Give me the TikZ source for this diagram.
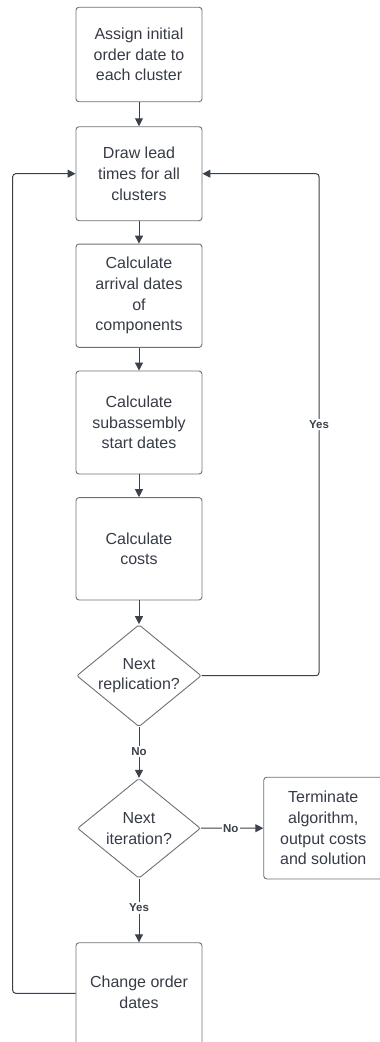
\documentclass[tikz,border=0pt]{standalone}
\usepackage{fontspec}
\setmainfont{Liberation Sans}
\usetikzlibrary{arrows.meta,shapes.geometric}
\definecolor{ln}{HTML}{3A414A}
\definecolor{bd}{HTML}{6B7078}
\definecolor{tx}{HTML}{363B46}
\tikzset{
  x=1pt,y=-1pt,
  txt/.style={text=tx,font=\fontsize{16}{20.7}\selectfont,align=center},
  box/.style={txt,draw=bd,line width=0.9pt,rounded corners=3pt,minimum width=126pt,inner sep=0pt},
  dia/.style={txt,draw=bd,line width=0.9pt,diamond,aspect=1.22,minimum width=123pt,minimum height=100pt,inner sep=0pt,rounded corners=2pt},
  arr/.style={draw=ln,line width=1pt,-{Triangle[length=8pt,width=8pt]}},
  lbl/.style={fill=white,text=ln,font=\bfseries\fontsize{11.5}{13}\selectfont,inner sep=1.5pt}
}
\begin{document}
\begin{tikzpicture}
\useasboundingbox (0,0) rectangle (380,1042);
\node[box,minimum height=94.5pt] (b1) at (139,54.5) {Assign initial\\order date to\\each cluster};
\node[box,minimum height=94pt] (b2) at (139,173.7) {Draw lead\\times for all\\clusters};
\node[box,minimum height=103.3pt] (b3) at (139,295.7) {Calculate\\arrival dates\\of\\components};
\node[box,minimum height=103pt] (b4) at (139,422.5) {Calculate\\subassembly\\start dates};
\node[box,minimum height=102.3pt] (b5) at (139,548.8) {Calculate\\costs};
\node[dia] (d1) at (139,675.7) {Next\\replication?};
\node[dia] (d2) at (139,828.3) {Next\\iteration?};
\node[box,minimum width=119pt,minimum height=101.7pt,anchor=west] (t) at (263.3,828.1) {Terminate\\algorithm,\\output costs\\and solution};
\node[box,minimum height=110pt,anchor=north] (b6) at (139,942.3) {};
\node[txt] (b6t) at (139,992.5) {Change order\\dates};
\coordinate (lc) at (12.7,993.3);
\coordinate (rc) at (319,675.7);
\draw[arr] (b1) -- (b2);
\draw[arr] (b2) -- (b3);
\draw[arr] (b3) -- (b4);
\draw[arr] (b4) -- (b5);
\draw[arr] (b5) -- (d1);
\draw[arr] (d1) -- node[lbl,pos=0.48]{No} (d2);
\draw[arr] (d2) -- node[lbl,pos=0.48]{No} (t);
\draw[arr] (d2) -- node[lbl,pos=0.46]{Yes} (b6);
\draw[arr,rounded corners=3pt] (d1.east) -- (rc) |- node[lbl,pos=0.25]{Yes} (b2.east);
\draw[arr,rounded corners=3pt] (b6.west |- lc) -- (lc) |- (b2.west);
\end{tikzpicture}
\end{document}
